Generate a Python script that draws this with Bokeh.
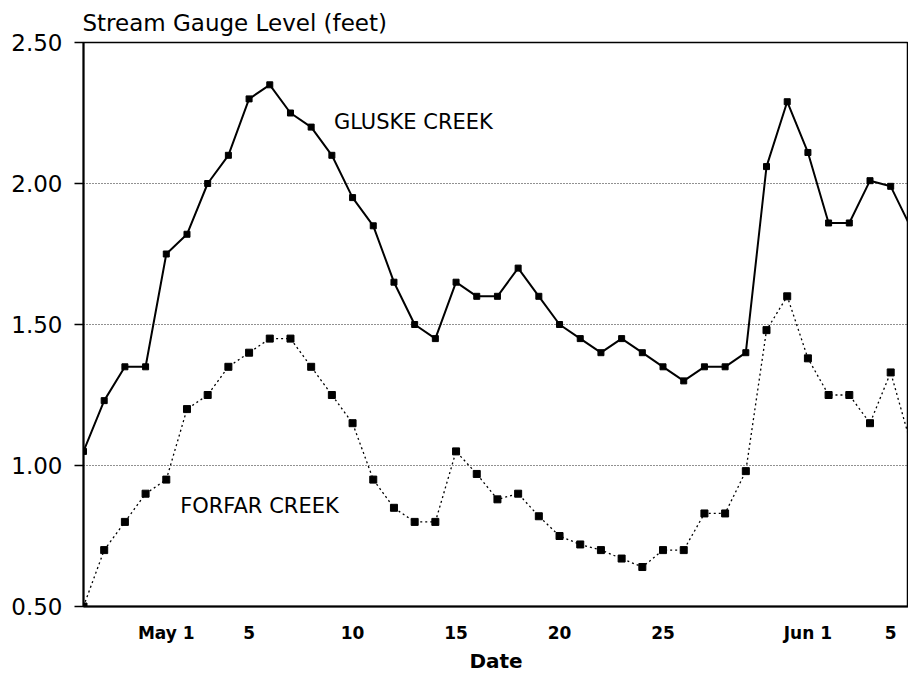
from bokeh.plotting import figure
from bokeh.models import Range1d, FixedTicker, Label, NumeralTickFormatter
from bokeh.embed import file_html
from bokeh.resources import INLINE

# Day index 0 = April 27
days = list(range(41))
gluske = [1.05, 1.23, 1.35, 1.35, 1.75, 1.82, 2.00, 2.10, 2.30, 2.35, 2.25, 2.20, 2.10, 1.95,
          1.85, 1.65, 1.50, 1.45, 1.65, 1.60, 1.60, 1.70, 1.60, 1.50, 1.45, 1.40, 1.45, 1.40,
          1.35, 1.30, 1.35, 1.35, 1.40, 2.06, 2.29, 2.11, 1.86, 1.86, 2.01, 1.99, 1.84]
forfar = [0.50, 0.70, 0.80, 0.90, 0.95, 1.20, 1.25, 1.35, 1.40, 1.45, 1.45, 1.35, 1.25, 1.15,
          0.95, 0.85, 0.80, 0.80, 1.05, 0.97, 0.88, 0.90, 0.82, 0.75, 0.72, 0.70, 0.67, 0.64,
          0.70, 0.70, 0.83, 0.83, 0.98, 1.48, 1.60, 1.38, 1.25, 1.25, 1.15, 1.33, 1.07]

x_tick_pos = [4, 8, 13, 18, 23, 28, 35, 39]
x_tick_labels = ["May 1", "5", "10", "15", "20", "25", "Jun 1", "5"]
y_ticks = [0.5, 1.0, 1.5, 2.0, 2.5]

series_names = ["GLUSKE CREEK", "FORFAR CREEK"]
label_pos = [(12.1, 2.218), (4.67, 0.858)]

FONT = "DejaVu Sans"

p = figure(width=908, height=675, output_backend="svg", toolbar_location=None,
           x_range=Range1d(0, 39.86), y_range=Range1d(0.5, 2.5),
           min_border_left=83, min_border_right=0, min_border_top=42, min_border_bottom=67)

p.title.text = "Stream Gauge Level (feet)"
p.title.text_font = FONT
p.title.text_font_size = "23px"
p.title.text_font_style = "normal"
p.title.text_color = "black"
p.title.align = "left"
p.title.standoff = 14
p.title.offset = -1

p.background_fill_color = "white"
p.border_fill_color = "white"
p.outline_line_color = "black"
p.outline_line_width = 1.5

# grid
p.xgrid.visible = False
p.ygrid.ticker = FixedTicker(ticks=y_ticks)
p.ygrid.grid_line_color = "#222222"
p.ygrid.grid_line_dash = "1 2"
p.ygrid.grid_line_width = 1

# y axis
p.yaxis.ticker = FixedTicker(ticks=y_ticks)
p.yaxis.formatter = NumeralTickFormatter(format="0.00")
p.yaxis.major_label_text_font = FONT
p.yaxis.major_label_text_font_size = "23px"
p.yaxis.major_label_text_color = "black"
p.yaxis.major_tick_out = 9
p.yaxis.major_tick_in = 0
p.yaxis.major_tick_line_width = 1.5
p.yaxis.minor_tick_line_color = None
p.yaxis.axis_line_width = 2
p.yaxis.major_label_standoff = 12

# x axis
p.xaxis.ticker = FixedTicker(ticks=x_tick_pos)
p.xaxis.major_label_overrides = {t: s for t, s in zip(x_tick_pos, x_tick_labels)}
p.xaxis.major_label_text_font = FONT
p.xaxis.major_label_text_font_size = "17px"
p.xaxis.major_label_text_font_style = "bold"
p.xaxis.major_label_text_color = "black"
p.xaxis.major_tick_out = 0
p.xaxis.major_tick_in = 0
p.xaxis.minor_tick_line_color = None
p.xaxis.axis_line_width = 2
p.xaxis.major_label_standoff = 16
p.xaxis.axis_label = "Date"
p.xaxis.axis_label_text_font = FONT
p.xaxis.axis_label_text_font_size = "20px"
p.xaxis.axis_label_text_font_style = "bold"
p.xaxis.axis_label_text_color = "black"
p.xaxis.axis_label_standoff = 3

# series
p.line(days, gluske, line_color="black", line_width=2)
p.scatter(days, gluske, marker="square", size=6, color="black")
p.line(days, forfar, line_color="black", line_width=1.3, line_dash="2 3")
p.scatter(days, forfar, marker="square", size=7, color="black")

for name, (lx, ly) in zip(series_names, label_pos):
    p.add_layout(Label(x=lx, y=ly, text=name, text_font=FONT, text_font_size="21px",
                       text_color="black", text_baseline="alphabetic", text_align="left"))

open("out.html", "w").write(file_html(p, INLINE))
